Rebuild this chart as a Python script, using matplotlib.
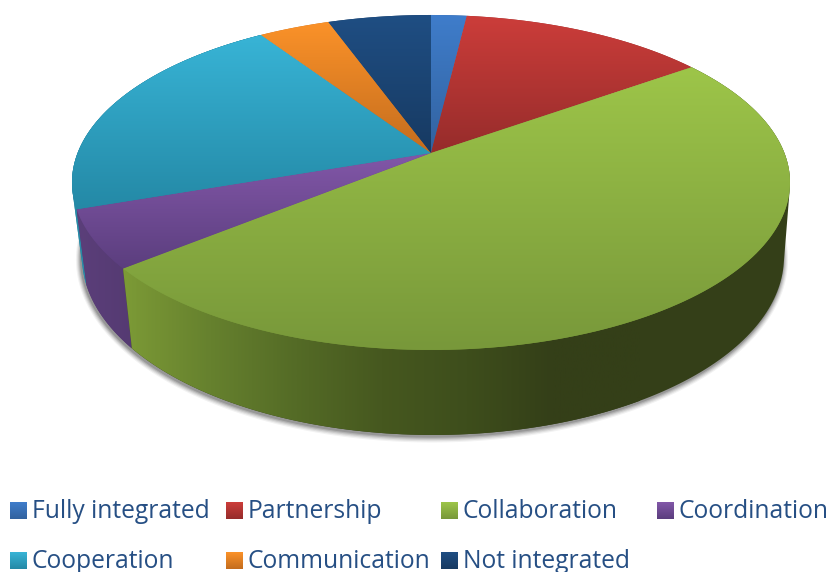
import numpy as np
import matplotlib
matplotlib.use("Agg")
import matplotlib.pyplot as plt
from matplotlib.path import Path
from matplotlib.patches import Polygon, Circle
from matplotlib.transforms import Transform, Affine2D
from matplotlib.colors import LinearSegmentedColormap

categories = ["Fully integrated", "Partnership", "Collaboration", "Coordination",
              "Cooperation", "Communication", "Not integrated"]
values = [1.9, 13.2, 49.0, 5.6, 21.0, 3.8, 5.5]

top_light = ["#3F7DCB", "#CC3D3A", "#9DC549", "#8257A8", "#38B4D6", "#FB9229", "#1F4E83"]
top_dark = ["#32629F", "#962C2B", "#78983A", "#5B3E7E", "#2489A6", "#C46D1E", "#173A62"]
wall_stops = {
    "Cooperation": ["#2A8AA6", "#2A8AA6"],
    "Coordination": ["#5B3F7A", "#553A72"],
    "Collaboration": ["#7C9A36", "#66812E", "#546B26", "#46581F", "#3E4E1C", "#343F18", "#343F18"],
}
legend_x = [10, 226, 441, 657, 10, 226, 441]
legend_baseline = [518, 518, 518, 518, 568, 568, 568]
text_color = "#264F84"


class Persp(Transform):
    input_dims = output_dims = 2
    is_separable = False
    has_inverse = False

    def __init__(self, cx, cy, a, b, k):
        super().__init__()
        self.p = (cx, cy, a, b, k)

    def transform_non_affine(self, xy):
        xy = np.asarray(xy, float)
        cx, cy, a, b, k = self.p
        w = 1 + k * xy[:, 1]
        return np.column_stack([cx + b * xy[:, 0] / w, cy - a * xy[:, 1] / w])

    def transform_path_non_affine(self, path):
        big = path.transformed(Affine2D().scale(1500))
        polys = big.to_polygons(closed_only=False)
        pts = np.concatenate(polys) / 1500
        return Path(self.transform_non_affine(pts))


def hull(points):
    pts = sorted(map(tuple, points))

    def half(seq):
        out = []
        for p in seq:
            while len(out) > 1 and ((out[-1][0] - out[-2][0]) * (p[1] - out[-2][1])
                                    - (out[-1][1] - out[-2][1]) * (p[0] - out[-2][0])) <= 0:
                out.pop()
            out.append(p)
        return out[:-1]
    return np.array(half(pts) + half(pts[::-1]))


fig = plt.figure(figsize=(8.29, 5.72), dpi=100)
ax = fig.add_axes([0, 0, 1, 1])
wedges, _ = ax.pie(values, startangle=90, counterclock=False, radius=1, center=(0, 0))
ax.set_aspect("auto")
ax.set_xlim(0, 829)
ax.set_ylim(572, 0)
ax.axis("off")

top_t = Persp(431, 153, 162.3, 353.4, 0.176)
bot_params = (433, 225.6, 172.5, 345.5, 0.176)
bot_t = Persp(*bot_params)


def arc(theta1, theta2, n=160):
    t = np.radians(np.linspace(theta1, theta2, n))
    return np.column_stack([np.cos(t), np.sin(t)])


# soft shadow beneath the disc
for grow, alpha in zip([5, 4, 3, 2, 1], [0.05, 0.07, 0.09, 0.12, 0.15]):
    s = Persp(bot_params[0] - 1, bot_params[1] + 1.5, bot_params[2] + grow, bot_params[3] + grow, 0.176)
    ax.add_patch(Circle((0, 0), 1, transform=s + ax.transData, fc="black", ec="none",
                        alpha=alpha, zorder=1))

# side wall, back to front
lookup = dict(zip(categories, wedges))
for order, name in enumerate(wall_stops):
    w = lookup[name]
    a = arc(w.theta1, w.theta2)
    pts = hull(np.vstack([top_t.transform_non_affine(a), bot_t.transform_non_affine(a)]))
    z = 2 + order * 0.2
    poly = Polygon(pts, closed=True, fc=wall_stops[name][-1], ec="none", zorder=z)
    ax.add_patch(poly)
    cmap = LinearSegmentedColormap.from_list(name, wall_stops[name])
    y0, y1 = pts[:, 1].min(), pts[:, 1].max()
    x0, x1 = pts[:, 0].min(), pts[:, 0].max()
    if name == "Collaboration":
        x1 = 640
    im = ax.imshow(np.linspace(0, 1, 400)[None, :], cmap=cmap, aspect="auto", zorder=z + 0.1,
                   extent=[x0, x1, y1, y0])
    im.set_clip_path(poly)

# top surface
for w, c1, c2, name in zip(wedges, top_light, top_dark, categories):
    w.set_transform(top_t + ax.transData)
    w.set_facecolor(c2)
    w.set_edgecolor("none")
    w.set_zorder(4)
    a = arc(w.theta1, w.theta2)
    pts = np.vstack([top_t.transform_non_affine(a), [[431, 153]]])
    cmap = LinearSegmentedColormap.from_list(name + "t", [c1, c2])
    im = ax.imshow(np.linspace(0, 1, 300)[:, None], cmap=cmap, aspect="auto", zorder=4.1,
                   extent=[pts[:, 0].min(), pts[:, 0].max(), pts[:, 1].max(), pts[:, 1].min()])
    im.set_clip_path(w)

# legend
for name, c1, c2, x, y in zip(categories, top_light, top_dark, legend_x, legend_baseline):
    cmap = LinearSegmentedColormap.from_list(name + "l", [c1, c2])
    ax.imshow(np.linspace(0, 1, 40)[:, None], cmap=cmap, aspect="auto", zorder=5,
              extent=[x, x + 16.5, y + 1, y - 16])
    ax.text(x + 22, y, name, family="Open Sans", fontsize=17.7, color=text_color,
            va="baseline", ha="left", zorder=6)

ax.set_xlim(0, 829)
ax.set_ylim(572, 0)
fig.savefig("out.png", dpi=100, facecolor="white")
